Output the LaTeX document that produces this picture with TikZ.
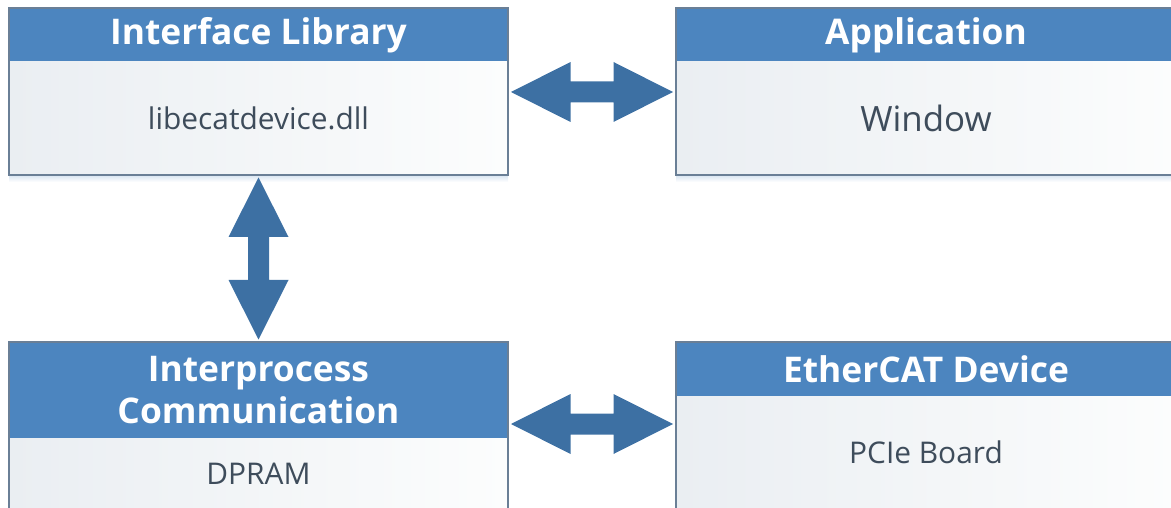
\documentclass[tikz,border=0pt]{standalone}
\usepackage{fontspec}
\setmainfont{Open Sans}
\usetikzlibrary{calc}
\definecolor{headblue}{HTML}{4C85BF}
\definecolor{arrowblue}{HTML}{3D70A3}
\definecolor{edgegray}{HTML}{6A7F96}
\definecolor{bodyleft}{HTML}{EAEEF2}
\definecolor{bodyright}{HTML}{FCFDFD}
\definecolor{bodytext}{HTML}{3E4C5B}
\begin{document}
\begin{tikzpicture}[x=1bp,y=-1bp,
  head/.style={fill=headblue, text=white, font=\fontsize{35.5}{42}\selectfont\bfseries,
    inner sep=0pt, outer sep=0pt, anchor=north west, align=center},
  body/.style={left color=bodyleft, right color=bodyright, text=bodytext,
    font=\fontsize{30}{36}\selectfont, inner sep=0pt, outer sep=0pt, anchor=north west},
  frame/.style={draw=edgegray, line width=1.3bp},
  glow/.style={top color=headblue!22, bottom color=white, draw=none},
  dblarrow/.pic={\fill[arrowblue] (-81,0) -- (-21.5,-30) -- (-21.5,-10.5) -- (21.5,-10.5)
     -- (21.5,-30) -- (81,0) -- (21.5,30) -- (21.5,10.5) -- (-21.5,10.5) -- (-21.5,30) -- cycle;}
  ]
\useasboundingbox (0,0) rectangle (1171,508);
\clip (0,0) rectangle (1171,508);
% Interface Library
\node[head, minimum width=499bp, minimum height=54bp] (ilh) at (9,8) {Interface Library};
\node[body, minimum width=499bp, minimum height=113bp] (ilb) at (ilh.south west) {libecatdevice.dll};
\shade[glow] (ilb.south west) rectangle ([yshift=-7bp]ilb.south east);
\draw[frame] (ilh.north west) rectangle (ilb.south east);
% Application
\node[head, minimum width=500bp, minimum height=54bp] (apph) at (676,8) {Application};
\node[body, minimum width=500bp, minimum height=113bp, font=\fontsize{35}{40}\selectfont] (appb) at (apph.south west) {Window};
\shade[glow] (appb.south west) rectangle ([yshift=-7bp]appb.south east);
\draw[frame] (apph.north west) rectangle (appb.south east);
% Interprocess Communication
\node[head, minimum width=499bp, minimum height=96bp] (ipch) at (9,342) {Interprocess\\Communication};
\node[body, minimum width=499bp, minimum height=72bp] (ipcb) at (ipch.south west) {DPRAM};
\draw[frame] (ipch.north west) rectangle (ipcb.south east);
% EtherCAT Device
\node[head, minimum width=500bp, minimum height=54bp] (ecath) at (676,342) {EtherCAT Device};
\node[body, minimum width=500bp, minimum height=113bp] (ecatb) at (ecath.south west) {PCIe Board};
\draw[frame] (ecath.north west) rectangle (ecatb.south east);
% connectors
\coordinate (m1) at ($(ilh.south east)!0.5!(apph.south west)$);
\pic at ([yshift=-30bp]m1) {dblarrow};
\coordinate (m2) at ($(ilb.south)!0.5!(ipch.north)$);
\pic[rotate=90] at (m2) {dblarrow};
\coordinate (m3) at ($(ipch.north east)!0.5!(ecath.north west)$);
\pic at ([yshift=-82bp]m3) {dblarrow};
\end{tikzpicture}
\end{document}
